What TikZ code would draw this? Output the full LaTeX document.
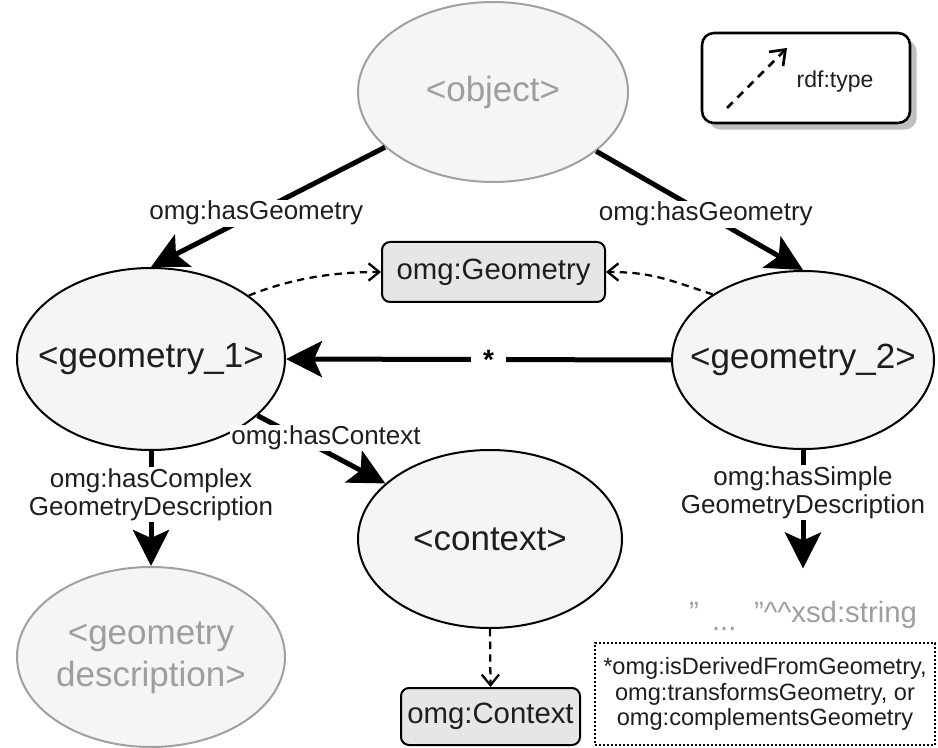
\documentclass[tikz,border=0pt]{standalone}
\usepackage{fontspec}
\setmainfont{Liberation Sans}
\usetikzlibrary{shapes.geometric,arrows.meta,shadows}
\definecolor{nodefill}{HTML}{F5F5F5}
\definecolor{boxfill}{HTML}{E6E6E6}
\definecolor{fadegray}{HTML}{9E9E9E}
\definecolor{fadeline}{HTML}{A0A0A0}
\definecolor{inkgray}{HTML}{1E1E1E}
% zero-width box so long names do not widen the ellipses
\newcommand{\zw}[1]{\makebox[0pt][c]{#1}}
% straight double quote
\newcommand{\sq}{\symbol{34}}

\begin{document}
\begin{tikzpicture}[x=0.75pt,y=-0.75pt,
  resource/.style={ellipse, draw=black, line width=1.5pt, fill=nodefill,
    inner sep=0pt, text=inkgray, font=\fontsize{26.25}{31.5}\selectfont},
  faded/.style={resource, draw=fadeline, text=fadegray},
  classbox/.style={rectangle, rounded corners=6pt, draw=black, line width=1.5pt,
    fill=boxfill, inner sep=0pt, text=inkgray, font=\fontsize{22}{26}\selectfont},
  prop/.style={line width=3.75pt, -{Stealth[length=27pt,width=27pt,inset=6pt]}},
  typeof/.style={line width=1.7pt, dash pattern=on 5.5pt off 4pt,
    -{Straight Barb[length=8pt,width=13pt,line width=1.7pt]}},
  lbl/.style={fill=white, inner sep=1pt, text=inkgray,
    font=\fontsize{19.5}{21}\selectfont, align=center},
  legendbox/.style={rectangle, rounded corners=9pt, draw=black, line width=1.9pt,
    fill=white, minimum width=156pt, minimum height=67.5pt,
    drop shadow={shadow xshift=5pt, shadow yshift=-5pt, fill=black!25, opacity=1}},
  notebox/.style={rectangle, draw=black, line width=1.5pt, dash pattern=on 1.5pt off 1.5pt,
    minimum width=255pt, minimum height=76.5pt, align=center, text=inkgray,
    font=\fontsize{17.7}{19.2}\selectfont},
]
\useasboundingbox (0,0) rectangle (938,748);

% resources
\node[faded, minimum width=202.5pt, minimum height=135pt] (obj) at (493,92) {\zw{<object>}};
\node[resource, minimum width=201pt, minimum height=136.5pt] (g1) at (151,359) {\zw{<geometry\_1>}};
\node[resource, minimum width=196.5pt, minimum height=133.5pt] (g2) at (803,360) {\zw{<geometry\_2>}};
\node[resource, minimum width=198pt, minimum height=133.5pt] (ctx) at (490,539) {\zw{<context>}};
\node[faded, minimum width=201pt, minimum height=135pt] (gdesc) at (151,657)
  {\zw{\begin{tabular}{@{}c@{}}<geometry\\description>\end{tabular}}};

% classes
\node[classbox, minimum width=167.25pt, minimum height=45pt] (geo) at (493.5,272) {omg:Geometry};
\node[classbox, minimum width=134.25pt, minimum height=42.75pt] (ctxbox) at (490.5,716.5) {omg:Context};

% literal value
\node[anchor=base, inner ysep=24pt, inner xsep=0pt, text=fadegray,
  font=\fontsize{22}{26}\selectfont] (lit) at (803,622)
  {\sq\hspace{0.45em}\raisebox{-0.3em}{...}\hspace{0.6em}\sq\textasciicircum\textasciicircum xsd:string};

% legend
\node[legendbox] (legend) at (806,78) {};
\coordinate (lgA) at (727,108);
\coordinate (lgB) at (787,48);
\draw[line width=2pt, dash pattern=on 6pt off 5pt,
  -{Straight Barb[length=10pt,width=15pt,line width=2pt]}] (lgA) -- (lgB);
\node[text=inkgray, font=\fontsize{17.25}{20}\selectfont] (rdftype) at (835,82) {rdf:type};

% footnote
\node[notebox] (note) at (765,694)
  {*omg:isDerivedFromGeometry,\\omg:transformsGeometry, or\\omg:complementsGeometry};

% properties
\draw[prop] (obj) -- (g1.north) node[lbl, pos=0.55] {omg:hasGeometry};
\draw[prop] (obj) -- (g2.north) node[lbl, pos=0.53] {omg:hasGeometry};
\draw[prop] (g2.west) -- (g1.east)
  node[fill=white, inner xsep=9pt, inner ysep=2pt, pos=0.474,
       font=\fontsize{21}{24}\selectfont\bfseries] {*};
\draw[prop] (g1) -- (ctx);
\node[lbl] (ctxlbl) at (326,438) {omg:hasContext};
\draw[prop] (g1.south) -- (gdesc.north)
  node[lbl, pos=0.38] {omg:hasComplex\\GeometryDescription};
\draw[prop] (g2.south) -- (lit.north)
  node[lbl, pos=0.36] {omg:hasSimple\\GeometryDescription};

% rdf:type links
\draw[typeof] (g1.33) .. controls +(45,-18) and +(-45,0) .. (geo.west);
\draw[typeof] (g2.144) .. controls +(-45,-15) and +(45,0) .. (geo.east);
\draw[typeof] (ctx.south) -- (ctxbox.north);
\end{tikzpicture}
\end{document}
